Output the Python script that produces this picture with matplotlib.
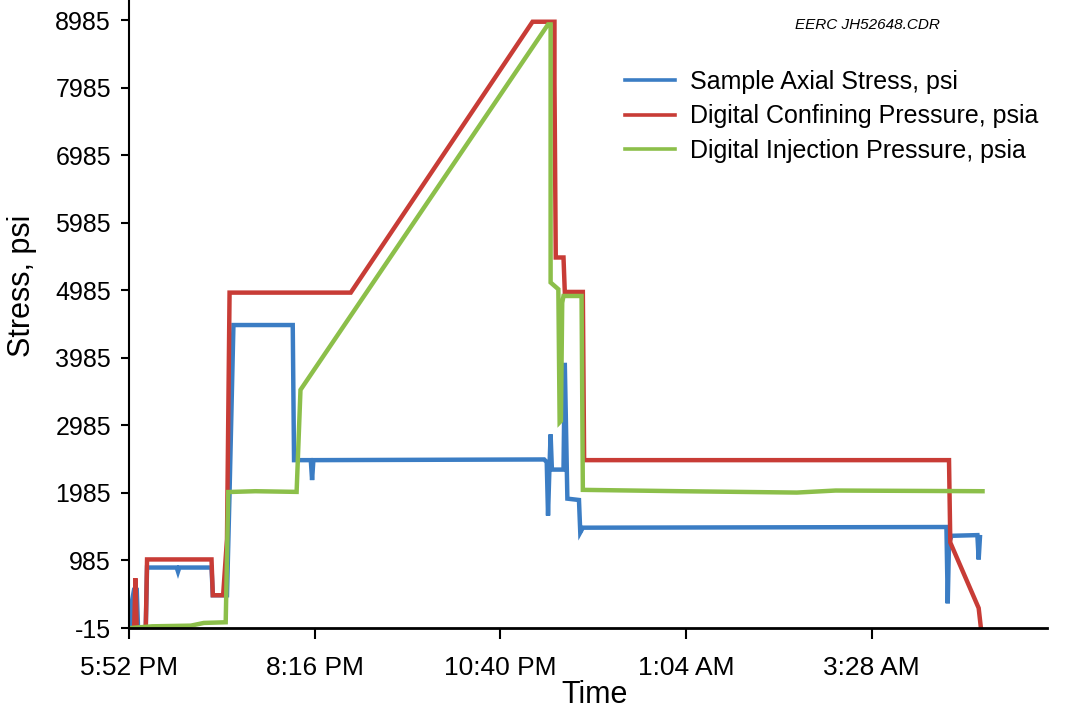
import datetime
import matplotlib
matplotlib.use("Agg")
import matplotlib.pyplot as plt

plt.rcParams["font.family"] = ["Liberation Sans", "DejaVu Sans"]

# readings, clock time "HH:MM" (times before noon are next day)
axial_time = ["17:53", "17:54", "17:56", "17:57", "17:58", "17:59", "18:05", "18:06", "18:29", "18:30",
              "18:31", "18:56", "18:57", "19:08", "19:10", "19:13", "19:59", "20:00", "20:13", "20:14",
              "20:15", "23:14", "23:16", "23:17", "23:18", "23:19", "23:20", "23:29", "23:30", "23:32",
              "23:41", "23:42", "23:44", "04:26", "04:27", "04:28", "04:30", "04:50", "04:51", "04:52"]
axial_psi = [-15, 350, 560, 580, 560, -15, -15, 880, 880, 820,
             880, 880, 470, 470, 2000, 4470, 4470, 2470, 2470, 2175,
             2470, 2480, 2440, 1650, 2300, 2850, 2330, 2330, 3910, 1900,
             1880, 1400, 1470, 1480, 350, 1250, 1350, 1360, 1000, 1330]

confining_time = ["17:56", "17:57", "17:58", "18:05", "18:06", "18:56", "18:57", "19:05", "19:08", "19:10",
                  "20:44", "23:05", "23:22", "23:22", "23:23", "23:29", "23:30", "23:44", "23:45", "04:28",
                  "04:29", "04:51", "04:53"]
confining_psia = [-15, 720, -15, -15, 1000, 1000, 470, 470, 1300, 4950,
                  4950, 8960, 8960, 8050, 5470, 5470, 4960, 4960, 2470, 2470,
                  1250, 280, -60]

injection_time = ["17:53", "18:10", "18:40", "18:50", "19:07", "19:09", "19:30", "20:02", "20:05", "23:17",
                  "23:19", "23:19", "23:25", "23:26", "23:27", "23:28", "23:29", "23:43", "23:44", "01:00",
                  "02:30", "03:00", "04:54"]
injection_psia = [-15, 10, 20, 60, 70, 1998, 2010, 2000, 3510, 8920,
                  8920, 5100, 5000, 3030, 3050, 4800, 4900, 4900, 2030, 2010,
                  1990, 2020, 2010]

tick_time = ["17:52", "20:16", "22:40", "01:04", "03:28"]
tick_labels = ["5:52 PM", "8:16 PM", "10:40 PM", "1:04 AM", "3:28 AM"]
y_ticks = [-15, 985, 1985, 2985, 3985, 4985, 5985, 6985, 7985, 8985]

base = datetime.datetime(2015, 1, 1)


def to_dt(s):
    h, m = map(int, s.split(":"))
    d = base + datetime.timedelta(hours=h, minutes=m)
    if h < 12:
        d += datetime.timedelta(days=1)
    return d


fig = plt.figure(figsize=(10.7, 7.15), dpi=100)
ax = fig.add_axes([129 / 1070, 87 / 715, 918 / 1070, 627 / 715])

ax.plot([to_dt(t) for t in axial_time], axial_psi, color="#3b7dc4", lw=3.2,
        label="Sample Axial Stress, psi", solid_joinstyle="miter")
ax.plot([to_dt(t) for t in confining_time], confining_psia, color="#c83c36", lw=3.2,
        label="Digital Confining Pressure, psia", solid_joinstyle="miter")
ax.plot([to_dt(t) for t in injection_time], injection_psia, color="#8cbf4a", lw=3.2,
        label="Digital Injection Pressure, psia", solid_joinstyle="miter")

ax.set_xlim(to_dt("17:52"), to_dt("05:44"))
ax.set_ylim(-15, -15 + 627 / 0.06755)
ax.set_xticks([to_dt(t) for t in tick_time])
ax.set_xticklabels(tick_labels, fontsize=19)
ax.set_yticks(y_ticks)
ax.set_yticklabels([str(v) for v in y_ticks], fontsize=18)
ax.tick_params(axis="x", length=8, width=1.5, pad=12)
ax.tick_params(axis="y", length=6, width=1.5, pad=7)

for side in ["top", "right"]:
    ax.spines[side].set_visible(False)
ax.spines["left"].set_linewidth(1.5)
ax.spines["bottom"].set_linewidth(2)

fig.text(22 / 1070, 1 - 286 / 715, "Stress, psi", rotation=90, fontsize=22, ha="center", va="center")
fig.text(595 / 1070, 1 - 695 / 715, "Time", fontsize=22, ha="center", va="center")
fig.text(867 / 1070, 1 - 25 / 715, "EERC JH52648.CDR", fontsize=11, style="italic", ha="center", va="center")

leg = ax.legend(loc="upper left", bbox_to_anchor=(625 / 1070, 1 - 70 / 715), bbox_transform=fig.transFigure,
                frameon=False, fontsize=18, handlelength=2.0, handletextpad=0.6, labelspacing=0.42,
                borderpad=0, borderaxespad=0)
for line in leg.get_lines():
    line.set_linewidth(2.6)

fig.savefig("out.png", dpi=100)
